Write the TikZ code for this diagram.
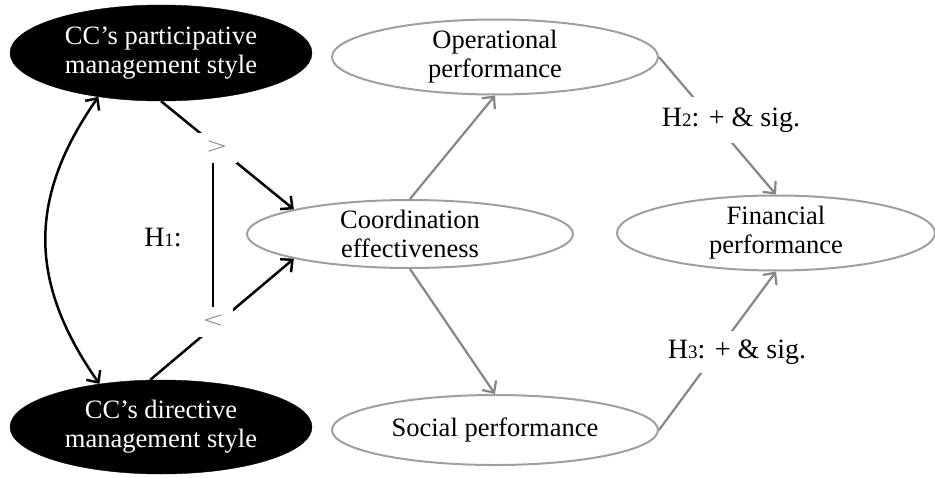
\documentclass[tikz,border=0pt]{standalone}
\usepackage{fontspec}
\setmainfont{Liberation Serif}
\usetikzlibrary{shapes.geometric,arrows.meta}
\begin{document}
\begin{tikzpicture}[x=1pt,y=1pt,
  ell/.style={ellipse, inner sep=0pt, align=center, font=\fontsize{26.5}{29}\selectfont},
  dark/.style={ell, fill=black, draw=black, text=white},
  light/.style={ell, draw=gray!75, line width=2pt, fill=white},
  barb/.tip={Straight Barb[length=9pt,width=17pt]},
  garrow/.style={draw=gray!95, line width=2.2pt, -barb},
  barrow/.style={draw=black, line width=2.5pt, -barb},
  hlab/.style={fill=white, inner sep=0pt, font=\fontsize{28}{30}\selectfont},
  cmp/.style={fill=white, inner sep=0pt, minimum width=40pt, minimum height=30pt, text=gray!90, font=\fontsize{24}{24}\selectfont}]
\useasboundingbox (0,0) rectangle (935,-477);
% nodes
\node[dark, minimum width=302pt, minimum height=96pt] (part) at (161,-53) {CC’s participative\\management style};
\node[dark, minimum width=302pt, minimum height=94pt] (dir) at (161,-427) {CC’s directive\\management style};
\node[light, minimum width=326pt, minimum height=68pt] (coord) at (410,-234) {Coordination\\effectiveness};
\node[light, minimum width=326pt, minimum height=70pt] (oper) at (495,-57) {Operational\\performance};
\node[light, minimum width=326pt, minimum height=70pt] (soc) at (495,-430) {Social performance};
\node[light, minimum width=318pt, minimum height=69pt] (fin) at (776,-233) {Financial\\performance};
% gray connectors
\draw[garrow] (coord.north) -- (oper.south);
\draw[garrow] (coord.south) -- (soc.north);
\draw[garrow] (oper.east) -- (fin.north);
\draw[garrow] (soc.east) -- (fin.south);
\node[hlab, minimum width=150pt, minimum height=46pt] (h2) at (731,-120) {H{\fontsize{19}{19}\selectfont 2}: + \& sig.};
\node[hlab, minimum width=150pt, minimum height=42pt] (h3) at (737,-352) {H{\fontsize{19}{19}\selectfont 3}: + \& sig.};
% black connectors
\draw[barrow] (part.south) -- (coord.168);
\draw[barrow] (dir.103) -- (coord.192);
\node[cmp] (gt) at (217,-148) {\scalebox{1.5}[1]{>}};
\node[cmp] (lt) at (213,-322) {\scalebox{1.5}[1]{<}};
\draw[line width=2.5pt] (lt.north |- gt.south) -- (lt.north);
\node[font=\fontsize{28}{30}\selectfont] (h1) at (163,-238) {H{\fontsize{19}{19}\selectfont 1}:};
\draw[line width=2.5pt, barb-barb] (part.215) to[out=235, in=125, looseness=1.1] (dir.145);
\end{tikzpicture}
\end{document}
